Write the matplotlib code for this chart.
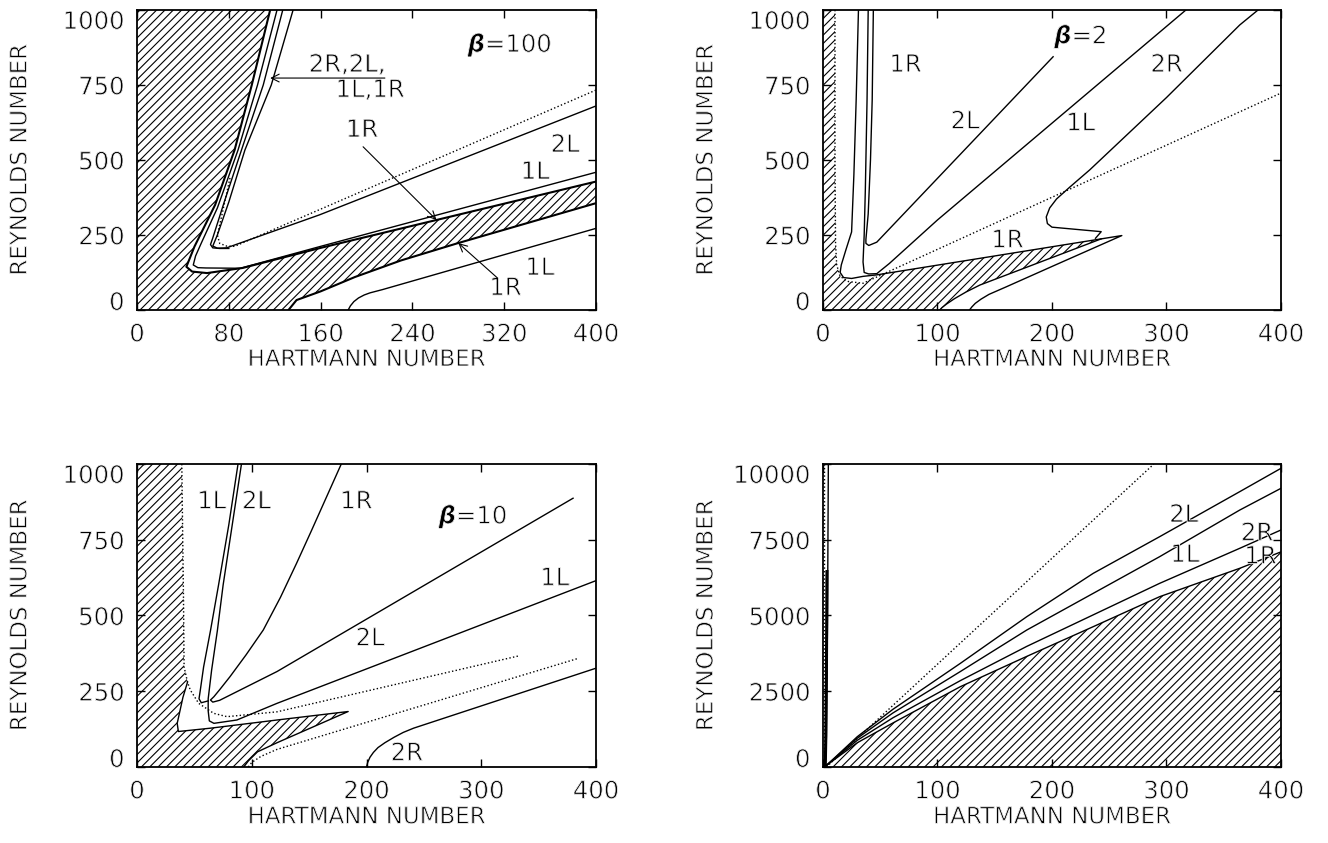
import matplotlib.pyplot as plt
import matplotlib.patheffects as pe
from matplotlib.patches import Polygon

plt.rcParams['font.family'] = ['DejaVu Sans']
plt.rcParams['mathtext.fontset'] = 'dejavusans'
plt.rcParams['hatch.linewidth'] = 0.8

# ---------------- panel 1 : beta = 100 ----------------
p1_hatch_x = [0, 132, 139, 160, 190, 230, 279, 400, 400, 159, 92, 61, 48, 43, 50, 68, 85, 100, 116, 0]
p1_hatch_y = [0, 0, 33, 62, 110, 165, 222, 356, 428, 206, 140, 123, 128, 144, 211, 350, 533, 750, 1000, 1000]
p1_1L_x = [122, 105, 88, 70, 56, 51, 49, 53, 60, 90, 159, 400]
p1_1L_y = [1000, 750, 533, 340, 223, 180, 150, 141, 140, 139, 211, 459]
p1_1R_x = [127, 110, 91, 76, 66, 64, 66, 72, 80]
p1_1R_y = [1000, 750, 533, 360, 240, 218, 207, 205, 205]
p1_2L_x = [136, 117, 94, 80, 70, 66, 70, 78, 159, 400]
p1_2L_y = [1000, 750, 533, 360, 250, 213, 206, 207, 317, 680]
p1_dot_x = [81, 73, 70, 72, 78, 85, 400]
p1_dot_y = [440, 300, 250, 222, 213, 212, 733]
p1_low_x = [184, 186, 189, 193, 198, 203, 214, 400]
p1_low_y = [0, 14, 28, 40, 50, 57, 68, 272]

# ---------------- panel 2 : beta = 2 ----------------
p2_hatch_x = [0, 102, 104, 108, 115, 125, 137, 190, 243, 47, 35, 22, 15, 12, 11, 10.5, 10.5, 0]
p2_hatch_y = [0, 0, 8, 20, 38, 60, 83, 160, 237, 117, 89, 95, 112, 150, 220, 500, 1000, 1000]
p2_1R_x = [31, 29, 27, 25, 20, 16, 15, 18, 25, 35, 47, 261, 200, 160, 145, 138, 133, 130, 128]
p2_1R_y = [1000, 700, 450, 260, 200, 150, 125, 108, 105, 112, 117, 248, 145, 77, 52, 36, 22, 10, 0]
p2_1L_x = [39.5, 38.5, 37, 36, 35, 36, 40, 47, 58, 100, 317]
p2_1L_y = [1000, 700, 400, 250, 160, 125, 120, 121, 155, 300, 1000]
p2_2L_x = [44, 43, 41.5, 39.5, 37.5, 37.5, 40, 47, 201]
p2_2L_y = [1000, 700, 500, 320, 235, 222, 215, 226, 844]
p2_2R_x = [380, 364, 300, 233, 216, 204, 198, 195, 196, 200, 243, 238]
p2_2R_y = [1000, 950, 708, 467, 411, 370, 340, 310, 288, 276, 261, 239]
p2_dot_x = [10.5, 10.5, 11, 12, 15, 22, 35, 47, 400]
p2_dot_y = [1000, 500, 220, 150, 112, 95, 89, 110, 723]

# ---------------- panel 3 : beta = 10 ----------------
p3_hatch_x = [0, 93, 97, 105, 122, 184, 122, 64, 36, 35, 40, 44, 41, 40.5, 39, 0]
p3_hatch_y = [0, 0, 20, 50, 80, 183, 155, 128, 117, 144, 230, 280, 330, 550, 1000, 1000]
p3_1L_x = [91, 83, 75, 70, 65, 62, 62, 63, 67, 87, 122, 400]
p3_1L_y = [1000, 800, 600, 450, 320, 225, 185, 152, 144, 155, 210, 615]
p3_1R_x = [178, 165, 152, 139, 125, 110, 95, 81, 72, 67, 64, 66, 72, 122, 380]
p3_1R_y = [1000, 890, 780, 672, 560, 452, 370, 298, 255, 232, 221, 214, 220, 315, 887]
p3_pair_x = [88, 80, 71, 64, 58, 55, 54, 56, 62]
p3_pair_y = [1000, 800, 600, 450, 330, 250, 225, 212, 218]
p3_2R_x = [200, 201, 203, 206, 210, 216, 224, 232, 241, 400]
p3_2R_y = [0, 15, 32, 48, 64, 80, 98, 114, 128, 326]
p3_dot1_x = [39, 40.5, 41, 44, 46.4, 53.7, 66.8, 78.4, 122, 332]
p3_dot1_y = [1000, 550, 330, 280, 254, 210, 177, 166, 182, 366]
p3_dot2_x = [97, 100, 108, 122, 385]
p3_dot2_y = [0, 15, 35, 58, 359]

# ---------------- panel 4 : large Reynolds ----------------
p4_x = [3, 30, 61, 120, 178, 236, 294, 364, 400]
p4_2L_y = [50, 1000, 1900, 3420, 4960, 6390, 7600, 9087, 9857]
p4_1L_y = [50, 950, 1780, 3150, 4520, 5730, 6940, 8480, 9197]
p4_2R_y = [50, 880, 1620, 2850, 3980, 5020, 6060, 7217, 7822]
p4_1R_y = [50, 800, 1450, 2650, 3650, 4630, 5620, 6557, 7100]
p4_vert_x = [4.7, 4, 3, 2.5, 2]
p4_vert_y = [10000, 5000, 1000, 300, 0]
p4_thick_x = [3.5, 3, 2.5, 2]
p4_thick_y = [6450, 3000, 1000, 0]
p4_dot_x = [3, 289]
p4_dot_y = [0, 10000]
p4_vdot_x = [1, 1]
p4_vdot_y = [0, 10000]

FS = 17.5
LW = 1.0
# erode glyph edges a little so text looks as thin as the original
THIN = [pe.Normal(), pe.Stroke(linewidth=0.6, foreground='white')]


def style(ax, xticks, yticks):
    ax.set_xlim(xticks[0], xticks[-1])
    ax.set_ylim(yticks[0], yticks[-1])
    ax.set_xticks(xticks)
    ax.set_yticks(yticks)
    ax.tick_params(direction='in', length=6, width=1, top=True, right=True,
                   labelsize=FS, pad=9)
    for s in ax.spines.values():
        s.set_linewidth(1.3)
    ax.set_xlabel('HARTMANN NUMBER', fontsize=16.5)
    ax.set_ylabel('REYNOLDS NUMBER', fontsize=16.5)
    ax.xaxis.set_label_coords(0.5, -0.165)
    ax.xaxis.label.set_va('center')
    ax.yaxis.set_label_coords(-0.255, 0.5)
    ax.yaxis.label.set_va('center')
    ax.xaxis.label.set_path_effects(THIN)
    ax.yaxis.label.set_path_effects(THIN)
    for t in ax.get_xticklabels() + ax.get_yticklabels():
        t.set_path_effects(THIN)
    ticks = ax.yaxis.get_major_ticks()
    ticks[0].label1.set_va('baseline')
    ticks[-1].label1.set_va('top')


def hatch(ax, xs, ys):
    ax.add_patch(Polygon(list(zip(xs, ys)), closed=True, fill=False,
                         hatch='////', edgecolor='k', linewidth=0))


def label(ax, x, y, s):
    ax.text(x, y, s, ha='center', va='center', fontsize=FS, path_effects=THIN)


def arrow(ax, x0, y0, x1, y1):
    ax.annotate('', xy=(x1, y1), xytext=(x0, y0),
                arrowprops=dict(arrowstyle='->', lw=0.8, color='k',
                                shrinkA=0, shrinkB=0, mutation_scale=14))


fig = plt.figure(figsize=(13.28, 8.43), dpi=100)
ax1 = fig.add_axes([0.1032, 0.6323, 0.3456, 0.3559])
ax2 = fig.add_axes([0.6197, 0.6323, 0.3449, 0.3559])
ax3 = fig.add_axes([0.1032, 0.0902, 0.3456, 0.3594])
ax4 = fig.add_axes([0.6197, 0.0902, 0.3449, 0.3594])

# -------- panel 1 --------
hatch(ax1, p1_hatch_x, p1_hatch_y)
ax1.plot(p1_hatch_x[1:8], p1_hatch_y[1:8], 'k-', lw=1.5)
ax1.plot(p1_hatch_x[8:19], p1_hatch_y[8:19], 'k-', lw=1.5)
ax1.plot(p1_1L_x, p1_1L_y, 'k-', lw=LW)
ax1.plot(p1_1R_x, p1_1R_y, 'k-', lw=LW)
ax1.plot(p1_2L_x, p1_2L_y, 'k-', lw=LW)
ax1.plot(p1_low_x, p1_low_y, 'k-', lw=LW)
ax1.plot(p1_dot_x, p1_dot_y, 'k:', lw=LW)
label(ax1, 325, 883, r'$\boldsymbol{\beta}$=100')
label(ax1, 183, 817, '2R,2L,')
label(ax1, 203, 733, '1L,1R')
arrow(ax1, 216, 773, 116, 773)
label(ax1, 196, 600, '1R')
arrow(ax1, 197, 544, 261, 300)
label(ax1, 321, 73, '1R')
arrow(ax1, 314, 107, 280, 223)
label(ax1, 351, 140, '1L')
label(ax1, 347, 460, '1L')
label(ax1, 373, 550, '2L')
style(ax1, [0, 80, 160, 240, 320, 400], [0, 250, 500, 750, 1000])

# -------- panel 2 --------
hatch(ax2, p2_hatch_x, p2_hatch_y)
ax2.plot(p2_hatch_x[1:9], p2_hatch_y[1:9], 'k-', lw=LW)
ax2.plot(p2_1R_x, p2_1R_y, 'k-', lw=LW)
ax2.plot(p2_1L_x, p2_1L_y, 'k-', lw=LW)
ax2.plot(p2_2L_x, p2_2L_y, 'k-', lw=LW)
ax2.plot(p2_2R_x, p2_2R_y, 'k-', lw=LW)
ax2.plot(p2_dot_x, p2_dot_y, 'k:', lw=LW)
label(ax2, 72, 817, '1R')
label(ax2, 124, 628, '2L')
label(ax2, 225, 622, '1L')
label(ax2, 300, 817, '2R')
label(ax2, 225, 911, r'$\boldsymbol{\beta}$=2')
label(ax2, 161, 232, '1R')
style(ax2, [0, 100, 200, 300, 400], [0, 250, 500, 750, 1000])

# -------- panel 3 --------
hatch(ax3, p3_hatch_x, p3_hatch_y)
ax3.plot(p3_hatch_x[1:12], p3_hatch_y[1:12], 'k-', lw=LW)
ax3.plot(p3_1L_x, p3_1L_y, 'k-', lw=LW)
ax3.plot(p3_1R_x, p3_1R_y, 'k-', lw=LW)
ax3.plot(p3_pair_x, p3_pair_y, 'k-', lw=LW)
ax3.plot(p3_2R_x, p3_2R_y, 'k-', lw=LW)
ax3.plot(p3_dot1_x, p3_dot1_y, 'k:', lw=LW)
ax3.plot(p3_dot2_x, p3_dot2_y, 'k:', lw=LW)
label(ax3, 65, 876, '1L')
label(ax3, 104, 876, '2L')
label(ax3, 191, 876, '1R')
label(ax3, 293, 826, r'$\boldsymbol{\beta}$=10')
label(ax3, 364, 623, '1L')
label(ax3, 203, 424, '2L')
label(ax3, 235, 45, '2R')
style(ax3, [0, 100, 200, 300, 400], [0, 250, 500, 750, 1000])

# -------- panel 4 --------
hatch(ax4, [2] + p4_x + [400], [0] + p4_1R_y + [0])
ax4.plot(p4_x, p4_1R_y, 'k-', lw=LW)
ax4.plot(p4_x, p4_2R_y, 'k-', lw=LW)
ax4.plot(p4_x, p4_1L_y, 'k-', lw=LW)
ax4.plot(p4_x, p4_2L_y, 'k-', lw=LW)
ax4.plot(p4_vert_x, p4_vert_y, 'k-', lw=LW)
ax4.plot(p4_thick_x, p4_thick_y, 'k-', lw=2.2)
ax4.plot(p4_dot_x, p4_dot_y, 'k:', lw=LW)
ax4.plot(p4_vdot_x, p4_vdot_y, 'k:', lw=LW)
label(ax4, 315, 8317, '2L')
label(ax4, 316, 6997, '1L')
label(ax4, 379, 7712, '2R')
label(ax4, 382, 6942, '1R')
style(ax4, [0, 100, 200, 300, 400], [0, 2500, 5000, 7500, 10000])

fig.savefig('out.png', dpi=100)
